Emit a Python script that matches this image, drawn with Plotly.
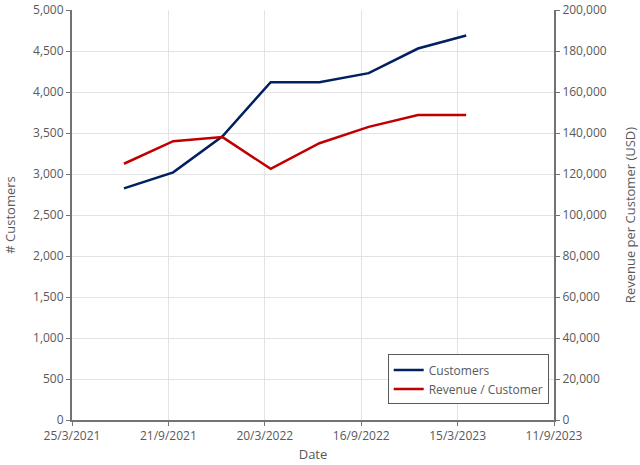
import plotly.graph_objects as go

dates = ["2021-06-30", "2021-09-30", "2021-12-31", "2022-03-31",
         "2022-06-30", "2022-09-30", "2022-12-31", "2023-03-31"]
customers = [2825, 3020, 3460, 4120, 4120, 4230, 4530, 4690]
revenue_per_customer = [125000, 136000, 138000, 122500, 135000, 143000, 148800, 148800]

FONT = "Open Sans"
TXT = "#595959"
AX = "#737373"
GRID = "#e3e3e3"

fig = go.Figure()
fig.add_trace(go.Scatter(x=dates, y=customers, name="Customers", mode="lines",
                         line=dict(color="#002060", width=2.5)))
fig.add_trace(go.Scatter(x=dates, y=revenue_per_customer, name="Revenue / Customer",
                         mode="lines", line=dict(color="#C00000", width=2.5), yaxis="y2"))

fig.update_layout(
    width=640, height=465,
    margin=dict(l=72, r=86, t=10, b=45),
    paper_bgcolor="white", plot_bgcolor="white",
    font=dict(family=FONT, size=12, color=TXT),
    showlegend=True,
    legend=dict(x=0.655, y=0.16, xanchor="left", yanchor="top",
                bordercolor="#595959", borderwidth=1, bgcolor="white",
                font=dict(size=12, color=TXT), tracegroupgap=0, itemwidth=30),
    xaxis=dict(
        type="date", range=["2021-03-25", "2023-09-11"], automargin=False,
        tick0="2021-03-25", dtick=180 * 86400000, tickformat="%-d/%-m/%Y",
        showgrid=True, gridcolor=GRID, gridwidth=1,
        showline=True, linecolor=AX, linewidth=2,
        ticks="outside", ticklen=4, tickcolor=AX,
        title=dict(text="Date", standoff=6, font=dict(size=13, color=TXT)),
        tickfont=dict(size=12, color=TXT),
    ),
    yaxis=dict(
        range=[0, 5000], dtick=500, tickformat=",", automargin=False,
        showgrid=True, gridcolor=GRID, gridwidth=1,
        showline=True, linecolor=AX, linewidth=2,
        ticks="outside", ticklen=4, tickcolor=AX,
        zeroline=False,
        title=dict(text="# Customers", standoff=14, font=dict(size=13, color=TXT)),
        tickfont=dict(size=12, color=TXT),
    ),
    yaxis2=dict(
        overlaying="y", side="right", automargin=False,
        range=[0, 200000], dtick=20000, tickformat=",",
        showgrid=False,
        showline=True, linecolor=AX, linewidth=2,
        ticks="outside", ticklen=4, tickcolor=AX,
        zeroline=False,
        title=dict(text="Revenue per Customer (USD)", standoff=20, font=dict(size=13, color=TXT)),
        tickfont=dict(size=12, color=TXT),
    ),
)

fig.write_html("out.html")
